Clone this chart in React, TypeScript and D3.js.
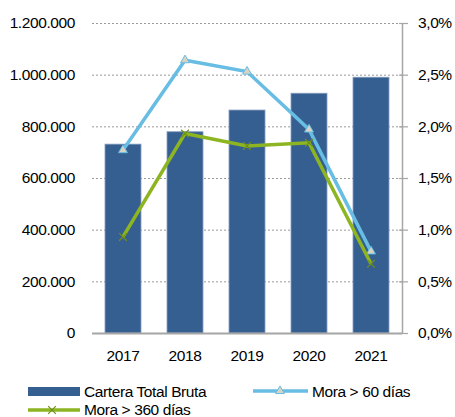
import React, { useEffect, useRef } from 'react';
import * as d3 from 'd3';

const years = ['2017', '2018', '2019', '2020', '2021'];
const cartera = [731000, 779000, 863000, 928000, 990000];
const mora60 = [1.77, 2.64, 2.53, 1.97, 0.79];
const mora360 = [0.93, 1.93, 1.81, 1.84, 0.67];
const leftTicks = [0, 200000, 400000, 600000, 800000, 1000000, 1200000];
const rightTicks = [0, 0.5, 1, 1.5, 2, 2.5, 3];

const BAR = '#365F91';
const BLUE = '#67BDE3';
const GREEN = '#8DB521';

const App = () => {
  const svgRef = useRef<SVGSVGElement>(null);

  useEffect(() => {
    const svg = d3.select(svgRef.current);
    svg.selectAll('*').remove();

    const width = 455;
    const height = 417;
    const margin = { top: 23, right: 53, bottom: 84, left: 92 };
    const font = '"Liberation Sans", Arial, sans-serif';
    const fs = '15.5px';
    const ls = '-0.4px';

    const x = d3.scaleBand()
      .domain(years)
      .range([margin.left, width - margin.right])
      .paddingInner(0.42)
      .paddingOuter(0.21);

    const y = d3.scaleLinear()
      .domain([0, 1200000])
      .range([height - margin.bottom, margin.top]);

    const y2 = d3.scaleLinear()
      .domain([0, 3])
      .range([height - margin.bottom, margin.top]);

    const fmtLeft = (d: number) => d3.format(',')(d).replace(/,/g, '.');
    const fmtRight = (d: number) => d.toFixed(1).replace('.', ',') + '%';

    // gridlines
    svg.append('g')
      .selectAll('line')
      .data(leftTicks.filter(d => d > 0))
      .enter().append('line')
      .attr('x1', margin.left)
      .attr('x2', width - margin.right)
      .attr('y1', d => y(d) + 0.5)
      .attr('y2', d => y(d) + 0.5)
      .attr('stroke', '#9a9a9a')
      .attr('stroke-width', 1)
      .attr('stroke-dasharray', '2,2');

    // left labels
    svg.append('g')
      .selectAll('text')
      .data(leftTicks)
      .enter().append('text')
      .attr('x', 75)
      .attr('y', d => y(d))
      .attr('dy', '0.35em')
      .attr('text-anchor', 'end')
      .style('font-family', font)
      .style('font-size', fs)
      .style('letter-spacing', ls)
      .attr('fill', '#000')
      .text(fmtLeft);

    // bars
    svg.append('g')
      .selectAll('rect')
      .data(cartera)
      .enter().append('rect')
      .attr('x', (d, i) => x(years[i])!)
      .attr('y', d => y(d))
      .attr('width', x.bandwidth())
      .attr('height', d => y(0) - y(d))
      .attr('fill', BAR)
      .attr('stroke', '#7f98bb')
      .attr('stroke-width', 0.8);

    // x axis baseline
    svg.append('line')
      .attr('x1', margin.left)
      .attr('x2', width - margin.right)
      .attr('y1', y(0) + 0.5)
      .attr('y2', y(0) + 0.5)
      .attr('stroke', '#a6a6a6')
      .attr('stroke-width', 2);

    // right axis
    const rx = width - margin.right;
    svg.append('line')
      .attr('x1', rx + 0.5)
      .attr('x2', rx + 0.5)
      .attr('y1', y2(3))
      .attr('y2', y2(0))
      .attr('stroke', '#a6a6a6')
      .attr('stroke-width', 1.5);

    svg.append('g')
      .selectAll('line')
      .data(rightTicks)
      .enter().append('line')
      .attr('x1', rx - 3)
      .attr('x2', rx + 6)
      .attr('y1', d => y2(d) + 0.5)
      .attr('y2', d => y2(d) + 0.5)
      .attr('stroke', '#a6a6a6')
      .attr('stroke-width', 1.2);

    svg.append('g')
      .selectAll('text')
      .data(rightTicks)
      .enter().append('text')
      .attr('x', 418)
      .attr('y', d => y2(d))
      .attr('dy', '0.35em')
      .style('font-family', font)
      .style('font-size', fs)
      .style('letter-spacing', ls)
      .attr('fill', '#000')
      .text(fmtRight);

    // x labels
    svg.append('g')
      .selectAll('text')
      .data(years)
      .enter().append('text')
      .attr('x', d => x(d)! + x.bandwidth() / 2)
      .attr('y', 361)
      .attr('text-anchor', 'middle')
      .style('font-family', font)
      .style('font-size', fs)
      .style('letter-spacing', ls)
      .attr('fill', '#000')
      .text(d => d);

    const cx = (i: number) => x(years[i])! + x.bandwidth() / 2;

    const line = d3.line<number>()
      .x((d, i) => cx(i))
      .y(d => y2(d));

    // Mora > 60
    svg.append('path')
      .datum(mora60)
      .attr('fill', 'none')
      .attr('stroke', BLUE)
      .attr('stroke-width', 3.5)
      .attr('d', line);

    const tri = d3.symbol().type(d3.symbolTriangle).size(34);
    svg.append('g')
      .selectAll('path')
      .data(mora60)
      .enter().append('path')
      .attr('transform', (d, i) => `translate(${cx(i)},${y2(d)})`)
      .attr('d', tri)
      .attr('fill', '#d8d3c3')
      .attr('stroke', BLUE)
      .attr('stroke-width', 1);

    // Mora > 360
    svg.append('path')
      .datum(mora360)
      .attr('fill', 'none')
      .attr('stroke', GREEN)
      .attr('stroke-width', 3.5)
      .attr('d', line);

    const cross = d3.symbol().type(d3.symbolX).size(40);
    svg.append('g')
      .selectAll('path')
      .data(mora360)
      .enter().append('path')
      .attr('transform', (d, i) => `translate(${cx(i)},${y2(d)})`)
      .attr('d', cross)
      .attr('fill', 'none')
      .attr('stroke', '#6f8f1a')
      .attr('stroke-width', 1.2);

    // legend
    const lg = svg.append('g')
      .style('font-family', font)
      .style('font-size', fs)
      .style('letter-spacing', ls);

    lg.append('rect')
      .attr('x', 28).attr('y', 387)
      .attr('width', 52).attr('height', 9)
      .attr('fill', BAR);
    lg.append('text')
      .attr('x', 84).attr('y', 396.5)
      .attr('fill', '#000')
      .text('Cartera Total Bruta');

    lg.append('line')
      .attr('x1', 253).attr('x2', 308)
      .attr('y1', 391).attr('y2', 391)
      .attr('stroke', BLUE).attr('stroke-width', 3.5);
    lg.append('path')
      .attr('transform', 'translate(280,391)')
      .attr('d', tri)
      .attr('fill', '#d8d3c3')
      .attr('stroke', BLUE)
      .attr('stroke-width', 1);
    lg.append('text')
      .attr('x', 312).attr('y', 396.5)
      .attr('fill', '#000')
      .text('Mora > 60 días');

    lg.append('line')
      .attr('x1', 28).attr('x2', 80)
      .attr('y1', 410).attr('y2', 410)
      .attr('stroke', GREEN).attr('stroke-width', 3.5);
    lg.append('path')
      .attr('transform', 'translate(52,410)')
      .attr('d', cross)
      .attr('fill', 'none')
      .attr('stroke', '#6f8f1a')
      .attr('stroke-width', 1.2);
    lg.append('text')
      .attr('x', 84).attr('y', 415)
      .attr('fill', '#000')
      .text('Mora > 360 días');
  }, []);

  return (
    <svg
      ref={svgRef}
      width={455}
      height={417}
      style={{ position: 'absolute', left: 0, top: 0, background: '#fff' }}
    />
  );
};

export default App;
